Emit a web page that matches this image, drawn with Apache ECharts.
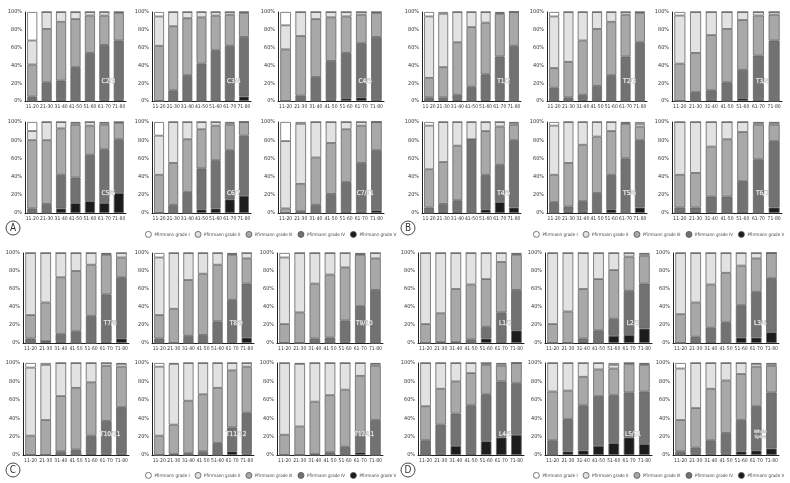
<!DOCTYPE html>
<html>
<head>
<meta charset="utf-8">
<script src="https://cdn.jsdelivr.net/npm/echarts@6/dist/echarts.min.js"></script>
<style>
  html, body { margin: 0; padding: 0; background: #fff; }
  #chart { width: 790px; height: 483px; }
</style>
</head>
<body>
<div id="chart"></div>
<script>
const ages = ['11-20', '21-30', '31-40', '41-50', '51-60', '61-70', '71-80']
const grades = ['Pfirrmann grade I', 'Pfirrmann grade II', 'Pfirrmann grade III', 'Pfirrmann grade IV', 'Pfirrmann grade V']
const yTicks = [0, 20, 40, 60, 80, 100]
const segNames = ['C2/3', 'C3/4', 'C4/5', 'C5/6', 'C6/7', 'C7/T1',
  'T1/2', 'T2/3', 'T3/4', 'T4/5', 'T5/6', 'T6/7',
  'T7/8', 'T8/9', 'T9/10', 'T10/11', 'T11/12', 'T12/L1',
  'L1/2', 'L2/3', 'L3/4', 'L4/5', 'L5/S1', 'Whole\nSpine']

// each segment: rows are grade I..V, columns are the age groups (% of discs)
const C2_3 = [[32, 0, 0, 0, 0, 0, 0], [27, 19, 11, 8, 4, 4, 1], [36, 60, 66, 54, 42, 33, 31], [5, 21, 21, 38, 54, 62, 66], [0, 0, 2, 0, 0, 1, 2]]
const C3_4 = [[5, 0, 0, 0, 0, 0, 0], [33, 16, 7, 6, 4, 3, 1], [62, 72, 64, 52, 39, 35, 27], [0, 12, 29, 42, 57, 60, 67], [0, 0, 0, 0, 0, 2, 5]]
const C4_5 = [[15, 0, 0, 0, 0, 0, 0], [27, 27, 8, 6, 5, 3, 1], [58, 67, 65, 49, 41, 32, 27], [0, 6, 27, 43, 51, 61, 71], [0, 0, 0, 2, 3, 4, 1]]
const C5_6 = [[10, 0, 0, 1, 0, 1, 0], [10, 20, 7, 2, 4, 2, 1], [75, 70, 51, 58, 32, 27, 18], [5, 10, 37, 28, 51, 59, 59], [0, 0, 5, 11, 13, 11, 22]]
const C6_7 = [[15, 0, 0, 0, 0, 1, 0], [43, 45, 19, 8, 4, 2, 0], [42, 46, 58, 43, 38, 28, 15], [0, 9, 23, 45, 53, 54, 66], [0, 0, 0, 4, 5, 15, 19]]
const C7_T1 = [[21, 2, 0, 0, 0, 0, 0], [74, 66, 39, 23, 8, 4, 0], [5, 30, 52, 56, 58, 41, 31], [0, 2, 9, 21, 32, 53, 66], [0, 0, 0, 0, 2, 2, 3]]
const T1_2 = [[5, 2, 0, 0, 0, 1, 0], [69, 60, 34, 17, 12, 1, 0], [22, 34, 59, 67, 58, 48, 38], [4, 3, 5, 16, 29, 49, 62], [0, 1, 2, 0, 1, 1, 0]]
const T2_3 = [[5, 0, 0, 0, 0, 0, 0], [58, 56, 32, 19, 11, 3, 1], [22, 40, 61, 64, 60, 47, 33], [15, 4, 6, 17, 29, 50, 66], [0, 0, 1, 0, 0, 0, 0]]
const T3_4 = [[4, 0, 0, 0, 0, 0, 0], [54, 46, 26, 19, 9, 4, 3], [42, 44, 62, 60, 56, 45, 29], [0, 10, 10, 21, 32, 49, 68], [0, 0, 2, 0, 3, 2, 0]]
const T4_5 = [[4, 0, 0, 0, 0, 0, 1], [48, 44, 26, 19, 10, 5, 2], [42, 46, 60, 0, 48, 42, 17], [6, 8, 12, 81, 38, 41, 74], [0, 2, 2, 0, 4, 12, 6]]
const T5_6 = [[4, 0, 0, 0, 0, 1, 2], [54, 45, 25, 16, 10, 1, 3], [30, 48, 62, 62, 48, 38, 15], [12, 5, 11, 22, 38, 60, 74], [0, 2, 2, 0, 4, 0, 6]]
const T6_7 = [[0, 0, 0, 0, 0, 1, 1], [58, 56, 27, 19, 11, 2, 2], [36, 38, 55, 63, 54, 38, 18], [6, 4, 17, 18, 33, 59, 73], [0, 2, 1, 0, 2, 0, 6]]
const T7_8 = [[0, 0, 0, 0, 0, 1, 0], [69, 55, 27, 20, 13, 1, 5], [26, 43, 63, 67, 57, 44, 22], [5, 0, 8, 13, 30, 52, 68], [0, 2, 2, 0, 0, 2, 5]]
const T8_9 = [[5, 0, 0, 0, 0, 1, 0], [64, 62, 30, 23, 13, 1, 6], [26, 38, 62, 68, 63, 50, 28], [5, 0, 8, 9, 24, 47, 60], [0, 0, 0, 0, 0, 1, 6]]
const T9_10 = [[5, 0, 0, 0, 0, 1, 0], [74, 66, 34, 24, 16, 1, 6], [21, 34, 61, 70, 59, 57, 35], [0, 0, 5, 6, 24, 40, 59], [0, 0, 0, 0, 1, 1, 0]]
const T10_11 = [[5, 2, 0, 0, 0, 0, 1], [74, 60, 36, 27, 21, 3, 3], [21, 38, 60, 67, 58, 60, 44], [0, 0, 4, 6, 19, 36, 51], [0, 0, 0, 0, 2, 1, 1]]
const T11_12 = [[4, 1, 0, 0, 0, 0, 0], [75, 66, 41, 34, 27, 8, 4], [21, 32, 57, 62, 60, 62, 50], [0, 1, 2, 4, 13, 26, 45], [0, 0, 0, 0, 0, 4, 1]]
const T12_L1 = [[0, 1, 0, 0, 0, 0, 1], [78, 68, 42, 35, 29, 14, 2], [22, 31, 57, 62, 62, 64, 59], [0, 0, 1, 3, 9, 19, 38], [0, 0, 0, 0, 0, 3, 0]]
const L1_2 = [[0, 0, 0, 0, 0, 0, 1], [79, 67, 40, 35, 29, 10, 1], [21, 32, 59, 61, 53, 56, 39], [0, 1, 1, 4, 13, 32, 45], [0, 0, 0, 0, 5, 2, 14]]
const L2_3 = [[0, 0, 0, 0, 0, 0, 1], [79, 65, 40, 29, 19, 4, 2], [21, 35, 55, 57, 54, 38, 31], [0, 0, 3, 14, 19, 49, 50], [0, 0, 2, 0, 8, 9, 16]]
const L3_4 = [[0, 0, 0, 0, 0, 0, 0], [68, 55, 35, 22, 14, 6, 0], [32, 38, 48, 55, 44, 37, 28], [0, 7, 15, 23, 36, 51, 60], [0, 0, 2, 0, 6, 6, 12]]
const L4_5 = [[0, 0, 0, 0, 0, 1, 0], [47, 28, 20, 11, 2, 2, 0], [37, 39, 35, 35, 32, 17, 22], [16, 32, 35, 52, 51, 61, 56], [0, 1, 10, 2, 15, 19, 22]]
const L5_S1 = [[0, 0, 0, 0, 2, 0, 1], [31, 30, 15, 7, 4, 1, 1], [53, 31, 31, 29, 29, 31, 29], [16, 35, 49, 54, 52, 49, 57], [0, 4, 5, 10, 13, 19, 12]]
const WHOLE = [[6, 0, 0, 0, 0, 1, 1], [56, 49, 28, 19, 12, 3, 2], [34, 43, 56, 57, 50, 43, 29], [4, 7, 15, 23, 34, 48, 61], [0, 1, 1, 1, 4, 5, 7]]

const segData = [C2_3, C3_4, C4_5, C5_6, C6_7, C7_T1, T1_2, T2_3, T3_4, T4_5, T5_6, T6_7,
  T7_8, T8_9, T9_10, T10_11, T11_12, T12_L1, L1_2, L2_3, L3_4, L4_5, L5_S1, WHOLE]

const colors = ['#ffffff', '#e2e2e2', '#a8a8a8', '#727272', '#1c1c1c']
const font = '"DejaVu Sans Condensed", "Liberation Sans Narrow", "Liberation Sans", sans-serif'

// panel A, B, C, D: plot lefts/widths per column, tops/heights per row
const panels = [
  { lefts: [25, 152, 278], widths: [101, 99, 106], tops: [12, 122], heights: [89, 91], letter: 'A', lx: 13, ly: 228, legX: 140, legY: 226 },
  { lefts: [422, 547, 672], widths: [99, 100, 110], tops: [12, 122], heights: [89, 91], letter: 'B', lx: 408, ly: 228, legX: 528, legY: 226 },
  { lefts: [23, 152, 277], widths: [106, 102, 106], tops: [253, 363], heights: [90, 92], letter: 'C', lx: 13, ly: 470, legX: 140, legY: 467 },
  { lefts: [418, 545, 673], widths: [106, 107, 106], tops: [253, 363], heights: [90, 92], letter: 'D', lx: 408, ly: 470, legX: 528, legY: 467 }
]

const grid = [], xAxis = [], yAxis = [], series = [], legend = []
panels.forEach((p, pi) => {
  for (let r = 0; r < 2; r++) {
    for (let c = 0; c < 3; c++) {
      const g = pi * 6 + r * 3 + c
      grid.push({ left: p.lefts[c], top: p.tops[r], width: p.widths[c], height: p.heights[r] })
      xAxis.push({
        type: 'category', gridIndex: g, data: ages,
        axisLine: { lineStyle: { color: '#222', width: 1 } },
        axisTick: { show: false },
        axisLabel: { interval: 0, fontSize: 5, margin: 3, color: '#333', fontFamily: font }
      })
      yAxis.push({
        type: 'value', gridIndex: g, min: 0, max: 100, interval: 20,
        axisLine: { show: true, lineStyle: { color: '#222', width: 1 } },
        axisTick: { show: false },
        splitLine: { show: false },
        axisLabel: { fontSize: 5.5, margin: 3, color: '#333', fontFamily: font, formatter: '{value}%' }
      })
      // bottom of the stack is grade V
      for (let k = 4; k >= 0; k--) {
        series.push({
          name: grades[k], type: 'bar', stack: 's' + g,
          xAxisIndex: g, yAxisIndex: g,
          barCategoryGap: '30%',
          data: segData[g][k],
          itemStyle: { color: colors[k], borderColor: '#666', borderWidth: 0.8 },
          emphasis: { disabled: true },
          animation: false
        })
      }
    }
  }
  legend.push({
    left: p.legX, top: p.legY, width: 270, data: grades, icon: 'circle',
    itemWidth: 6, itemHeight: 6, itemGap: 5,
    textStyle: { fontSize: 4.5, color: '#444', fontFamily: font, padding: [0, 0, 0, -2] },
    itemStyle: { borderColor: '#555', borderWidth: 0.8 },
    selectedMode: false
  })
})

const chart = echarts.init(document.getElementById('chart'))
chart.setOption({
  backgroundColor: '#fff',
  animation: false,
  grid, xAxis, yAxis, series, legend
})

// segment labels sit on the 61-70 bar; panel letters in circles
const graphics = []
segNames.forEach((name, g) => {
  const two = name.indexOf('\n') > 0
  const pt = chart.convertToPixel({ gridIndex: g }, ['61-70', 22])
  graphics.push({
    type: 'text', x: pt[0] + 4, y: pt[1], z: 100, silent: true,
    style: {
      text: name, fill: '#ececec', stroke: '#b0b0b0', lineWidth: 0.5,
      font: (two ? '4.5px ' : '6.5px ') + font,
      align: 'center', verticalAlign: 'middle', lineHeight: two ? 5 : 8
    }
  })
})
panels.forEach(p => {
  graphics.push({ type: 'circle', z: 100, shape: { cx: p.lx, cy: p.ly, r: 7 }, style: { fill: '#fff', stroke: '#333', lineWidth: 0.9 } })
  graphics.push({ type: 'text', z: 101, x: p.lx, y: p.ly + 0.5, style: { text: p.letter, font: '10px ' + font, fill: '#333', align: 'center', verticalAlign: 'middle' } })
})
chart.setOption({ graphic: graphics })
</script>
</body>
</html>
